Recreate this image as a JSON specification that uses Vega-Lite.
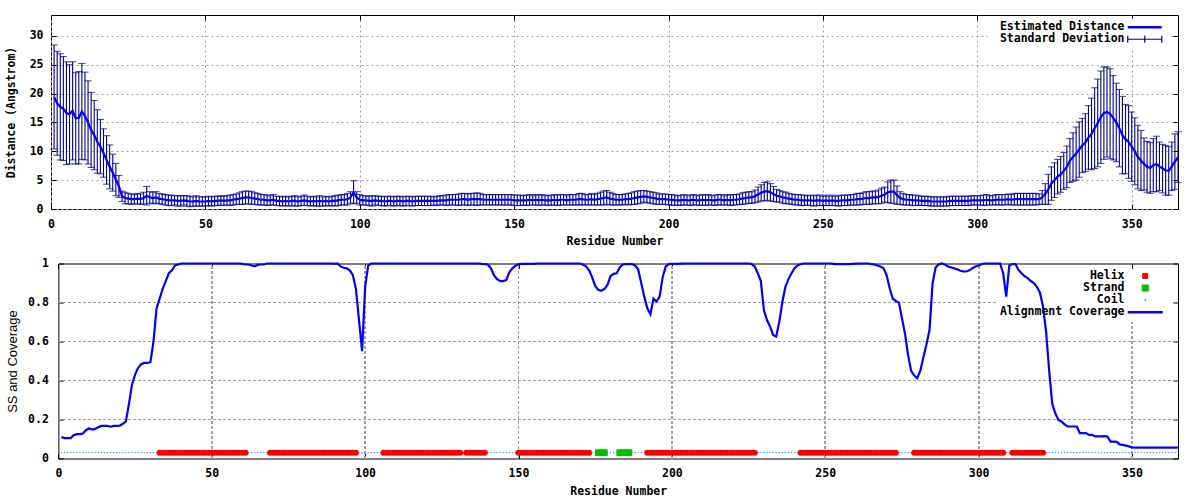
{
"$schema":"https://vega.github.io/schema/vega-lite/v6.json",
"background":"white",
"padding":{"left":5,"top":14,"right":0,"bottom":0},
"data":{"values":[
{"r":1,"d":19.4,"s":9.0,"c":0.11,"t":"C"},{"r":2,"d":18.3,"s":9.0,"c":0.105,"t":"C"},{"r":3,"d":17.7,"s":9.2,"c":0.105,"t":"C"},{"r":4,"d":17.4,"s":9.0,"c":0.105,"t":"C"},{"r":5,"d":16.6,"s":8.9,"c":0.12,"t":"C"},{"r":6,"d":16.4,"s":8.6,"c":0.125,"t":"C"},{"r":7,"d":17.0,"s":8.5,"c":0.125,"t":"C"},{"r":8,"d":15.7,"s":7.9,"c":0.128,"t":"C"},{"r":9,"d":15.8,"s":8.0,"c":0.145,"t":"C"},{"r":10,"d":16.9,"s":8.3,"c":0.155,"t":"C"},
{"r":11,"d":16.1,"s":7.6,"c":0.148,"t":"C"},{"r":12,"d":15.0,"s":7.2,"c":0.152,"t":"C"},{"r":13,"d":13.7,"s":6.5,"c":0.16,"t":"C"},{"r":14,"d":12.8,"s":6.0,"c":0.167,"t":"C"},{"r":15,"d":11.7,"s":5.5,"c":0.167,"t":"C"},{"r":16,"d":10.8,"s":4.7,"c":0.167,"t":"C"},{"r":17,"d":9.7,"s":4.2,"c":0.163,"t":"C"},{"r":18,"d":8.5,"s":4.2,"c":0.167,"t":"C"},{"r":19,"d":7.3,"s":3.8,"c":0.167,"t":"C"},{"r":20,"d":6.3,"s":3.2,"c":0.168,"t":"C"},
{"r":21,"d":5.1,"s":2.8,"c":0.178,"t":"C"},{"r":22,"d":3.9,"s":1.9,"c":0.19,"t":"C"},{"r":23,"d":2.2,"s":0.9,"c":0.28,"t":"C"},{"r":24,"d":1.9,"s":1.0,"c":0.38,"t":"C"},{"r":25,"d":1.8,"s":0.9,"c":0.43,"t":"C"},{"r":26,"d":1.7,"s":0.9,"c":0.465,"t":"C"},{"r":27,"d":1.7,"s":0.8,"c":0.484,"t":"C"},{"r":28,"d":1.8,"s":0.9,"c":0.49,"t":"C"},{"r":29,"d":1.7,"s":0.9,"c":0.49,"t":"C"},{"r":30,"d":1.9,"s":1.0,"c":0.494,"t":"C"},
{"r":31,"d":2.3,"s":1.6,"c":0.6,"t":"C"},{"r":32,"d":2.0,"s":1.0,"c":0.77,"t":"C"},{"r":33,"d":1.9,"s":1.0,"c":0.82,"t":"H"},{"r":34,"d":2.0,"s":1.0,"c":0.87,"t":"H"},{"r":35,"d":1.8,"s":0.9,"c":0.91,"t":"H"},{"r":36,"d":1.7,"s":0.9,"c":0.95,"t":"H"},{"r":37,"d":1.6,"s":0.9,"c":0.965,"t":"H"},{"r":38,"d":1.5,"s":0.9,"c":0.99,"t":"H"},{"r":39,"d":1.5,"s":0.9,"c":0.995,"t":"H"},{"r":40,"d":1.5,"s":0.8,"c":1,"t":"H"},
{"r":41,"d":1.4,"s":0.9,"c":1,"t":"H"},{"r":42,"d":1.4,"s":0.9,"c":1,"t":"H"},{"r":43,"d":1.5,"s":0.8,"c":1,"t":"H"},{"r":44,"d":1.4,"s":0.9,"c":1,"t":"H"},{"r":45,"d":1.3,"s":0.9,"c":1,"t":"H"},{"r":46,"d":1.3,"s":0.8,"c":1,"t":"H"},{"r":47,"d":1.4,"s":0.9,"c":1,"t":"H"},{"r":48,"d":1.3,"s":0.8,"c":1,"t":"H"},{"r":49,"d":1.3,"s":0.8,"c":1,"t":"H"},{"r":50,"d":1.3,"s":0.8,"c":1,"t":"H"},
{"r":51,"d":1.4,"s":0.8,"c":1,"t":"H"},{"r":52,"d":1.3,"s":0.8,"c":1,"t":"H"},{"r":53,"d":1.4,"s":0.8,"c":1,"t":"H"},{"r":54,"d":1.4,"s":0.8,"c":1,"t":"H"},{"r":55,"d":1.5,"s":0.8,"c":1,"t":"H"},{"r":56,"d":1.4,"s":0.8,"c":1,"t":"H"},{"r":57,"d":1.5,"s":0.8,"c":1,"t":"H"},{"r":58,"d":1.5,"s":0.9,"c":1,"t":"H"},{"r":59,"d":1.6,"s":0.9,"c":1,"t":"H"},{"r":60,"d":1.7,"s":0.9,"c":0.998,"t":"H"},
{"r":61,"d":1.8,"s":1.0,"c":0.995,"t":"H"},{"r":62,"d":1.9,"s":1.1,"c":0.995,"t":"C"},{"r":63,"d":2.0,"s":1.1,"c":0.99,"t":"C"},{"r":64,"d":2.0,"s":1.1,"c":0.985,"t":"C"},{"r":65,"d":1.9,"s":1.1,"c":0.993,"t":"C"},{"r":66,"d":1.8,"s":1.0,"c":0.995,"t":"C"},{"r":67,"d":1.7,"s":1.0,"c":0.995,"t":"C"},{"r":68,"d":1.6,"s":0.9,"c":1,"t":"C"},{"r":69,"d":1.6,"s":0.9,"c":1,"t":"H"},{"r":70,"d":1.5,"s":0.9,"c":1,"t":"H"},
{"r":71,"d":1.5,"s":0.8,"c":1,"t":"H"},{"r":72,"d":1.6,"s":0.9,"c":1,"t":"H"},{"r":73,"d":1.4,"s":0.8,"c":1,"t":"H"},{"r":74,"d":1.4,"s":0.8,"c":1,"t":"H"},{"r":75,"d":1.3,"s":0.8,"c":1,"t":"H"},{"r":76,"d":1.4,"s":0.8,"c":1,"t":"H"},{"r":77,"d":1.3,"s":0.8,"c":1,"t":"H"},{"r":78,"d":1.4,"s":0.8,"c":1,"t":"H"},{"r":79,"d":1.4,"s":0.9,"c":1,"t":"H"},{"r":80,"d":1.3,"s":0.8,"c":1,"t":"H"},
{"r":81,"d":1.4,"s":0.8,"c":1,"t":"H"},{"r":82,"d":1.5,"s":0.9,"c":1,"t":"H"},{"r":83,"d":1.4,"s":0.8,"c":1,"t":"H"},{"r":84,"d":1.3,"s":0.8,"c":1,"t":"H"},{"r":85,"d":1.4,"s":0.8,"c":1,"t":"H"},{"r":86,"d":1.3,"s":0.8,"c":1,"t":"H"},{"r":87,"d":1.4,"s":0.9,"c":1,"t":"H"},{"r":88,"d":1.3,"s":0.8,"c":1,"t":"H"},{"r":89,"d":1.4,"s":0.8,"c":1,"t":"H"},{"r":90,"d":1.3,"s":0.8,"c":0.998,"t":"H"},
{"r":91,"d":1.4,"s":0.8,"c":1,"t":"H"},{"r":92,"d":1.4,"s":0.9,"c":0.985,"t":"H"},{"r":93,"d":1.5,"s":0.9,"c":0.978,"t":"H"},{"r":94,"d":1.6,"s":0.9,"c":0.975,"t":"H"},{"r":95,"d":1.6,"s":0.9,"c":0.965,"t":"H"},{"r":96,"d":1.7,"s":1.0,"c":0.94,"t":"H"},{"r":97,"d":2.0,"s":1.0,"c":0.87,"t":"H"},{"r":98,"d":2.9,"s":2.0,"c":0.71,"t":"C"},{"r":99,"d":2.0,"s":1.0,"c":0.55,"t":"C"},{"r":100,"d":1.6,"s":0.9,"c":0.88,"t":"C"},
{"r":101,"d":1.5,"s":0.8,"c":0.99,"t":"C"},{"r":102,"d":1.5,"s":0.8,"c":1,"t":"C"},{"r":103,"d":1.4,"s":0.8,"c":1,"t":"C"},{"r":104,"d":1.4,"s":0.9,"c":1,"t":"C"},{"r":105,"d":1.5,"s":0.8,"c":1,"t":"C"},{"r":106,"d":1.4,"s":0.8,"c":1,"t":"H"},{"r":107,"d":1.4,"s":0.8,"c":1,"t":"H"},{"r":108,"d":1.3,"s":0.8,"c":1,"t":"H"},{"r":109,"d":1.4,"s":0.8,"c":1,"t":"H"},{"r":110,"d":1.4,"s":0.8,"c":1,"t":"H"},
{"r":111,"d":1.3,"s":0.8,"c":1,"t":"H"},{"r":112,"d":1.4,"s":0.8,"c":1,"t":"H"},{"r":113,"d":1.4,"s":0.8,"c":1,"t":"H"},{"r":114,"d":1.3,"s":0.8,"c":1,"t":"H"},{"r":115,"d":1.4,"s":0.8,"c":1,"t":"H"},{"r":116,"d":1.4,"s":0.8,"c":1,"t":"H"},{"r":117,"d":1.3,"s":0.8,"c":1,"t":"H"},{"r":118,"d":1.4,"s":0.8,"c":1,"t":"H"},{"r":119,"d":1.4,"s":0.8,"c":1,"t":"H"},{"r":120,"d":1.4,"s":0.8,"c":1,"t":"H"},
{"r":121,"d":1.4,"s":0.8,"c":1,"t":"H"},{"r":122,"d":1.4,"s":0.8,"c":1,"t":"H"},{"r":123,"d":1.4,"s":0.8,"c":1,"t":"H"},{"r":124,"d":1.4,"s":0.7,"c":1,"t":"H"},{"r":125,"d":1.4,"s":0.8,"c":1,"t":"H"},{"r":126,"d":1.5,"s":0.8,"c":1,"t":"H"},{"r":127,"d":1.5,"s":0.8,"c":1,"t":"H"},{"r":128,"d":1.5,"s":0.9,"c":1,"t":"H"},{"r":129,"d":1.6,"s":0.9,"c":1,"t":"H"},{"r":130,"d":1.6,"s":0.9,"c":1,"t":"H"},
{"r":131,"d":1.6,"s":0.9,"c":1,"t":"H"},{"r":132,"d":1.6,"s":1.0,"c":1,"t":"C"},{"r":133,"d":1.7,"s":1.0,"c":1,"t":"H"},{"r":134,"d":1.7,"s":1.0,"c":1,"t":"H"},{"r":135,"d":1.6,"s":1.0,"c":1,"t":"H"},{"r":136,"d":1.7,"s":1.0,"c":1,"t":"H"},{"r":137,"d":1.7,"s":1.0,"c":1,"t":"H"},{"r":138,"d":1.7,"s":1.1,"c":0.998,"t":"H"},{"r":139,"d":1.7,"s":1.0,"c":0.997,"t":"H"},{"r":140,"d":1.6,"s":0.9,"c":0.995,"t":"C"},
{"r":141,"d":1.6,"s":0.9,"c":0.975,"t":"C"},{"r":142,"d":1.6,"s":0.9,"c":0.94,"t":"C"},{"r":143,"d":1.6,"s":0.9,"c":0.92,"t":"C"},{"r":144,"d":1.6,"s":0.9,"c":0.91,"t":"C"},{"r":145,"d":1.6,"s":0.9,"c":0.91,"t":"C"},{"r":146,"d":1.6,"s":0.9,"c":0.915,"t":"C"},{"r":147,"d":1.6,"s":0.9,"c":0.955,"t":"C"},{"r":148,"d":1.6,"s":0.9,"c":0.975,"t":"C"},{"r":149,"d":1.6,"s":0.9,"c":0.988,"t":"C"},{"r":150,"d":1.5,"s":0.9,"c":0.996,"t":"H"},
{"r":151,"d":1.5,"s":0.9,"c":0.998,"t":"H"},{"r":152,"d":1.5,"s":0.9,"c":0.998,"t":"H"},{"r":153,"d":1.5,"s":0.8,"c":0.998,"t":"H"},{"r":154,"d":1.5,"s":0.9,"c":0.998,"t":"H"},{"r":155,"d":1.6,"s":0.9,"c":0.998,"t":"H"},{"r":156,"d":1.5,"s":0.8,"c":1,"t":"H"},{"r":157,"d":1.6,"s":0.9,"c":1,"t":"H"},{"r":158,"d":1.5,"s":0.9,"c":1,"t":"H"},{"r":159,"d":1.6,"s":0.9,"c":1,"t":"H"},{"r":160,"d":1.5,"s":0.8,"c":1,"t":"H"},
{"r":161,"d":1.5,"s":0.9,"c":1,"t":"H"},{"r":162,"d":1.5,"s":0.8,"c":1,"t":"H"},{"r":163,"d":1.6,"s":0.9,"c":1,"t":"H"},{"r":164,"d":1.5,"s":0.9,"c":1,"t":"H"},{"r":165,"d":1.6,"s":0.9,"c":1,"t":"H"},{"r":166,"d":1.6,"s":0.9,"c":1,"t":"H"},{"r":167,"d":1.5,"s":0.8,"c":1,"t":"H"},{"r":168,"d":1.6,"s":0.9,"c":1,"t":"H"},{"r":169,"d":1.6,"s":0.9,"c":1,"t":"H"},{"r":170,"d":1.6,"s":0.9,"c":1,"t":"H"},
{"r":171,"d":1.7,"s":1.0,"c":0.995,"t":"H"},{"r":172,"d":1.7,"s":1.0,"c":0.985,"t":"H"},{"r":173,"d":1.6,"s":0.9,"c":0.965,"t":"H"},{"r":174,"d":1.6,"s":0.9,"c":0.93,"t":"C"},{"r":175,"d":1.7,"s":1.0,"c":0.885,"t":"C"},{"r":176,"d":1.6,"s":0.9,"c":0.865,"t":"E"},{"r":177,"d":1.7,"s":1.0,"c":0.86,"t":"E"},{"r":178,"d":1.8,"s":1.1,"c":0.87,"t":"E"},{"r":179,"d":1.9,"s":1.2,"c":0.89,"t":"C"},{"r":180,"d":2.0,"s":1.2,"c":0.935,"t":"C"},
{"r":181,"d":1.8,"s":1.1,"c":0.947,"t":"C"},{"r":182,"d":1.7,"s":1.0,"c":0.95,"t":"C"},{"r":183,"d":1.6,"s":0.9,"c":0.98,"t":"E"},{"r":184,"d":1.6,"s":0.9,"c":0.995,"t":"E"},{"r":185,"d":1.6,"s":0.9,"c":0.997,"t":"E"},{"r":186,"d":1.7,"s":0.9,"c":0.997,"t":"E"},{"r":187,"d":1.7,"s":1.0,"c":0.997,"t":"C"},{"r":188,"d":1.8,"s":1.0,"c":0.99,"t":"C"},{"r":189,"d":1.9,"s":1.1,"c":0.97,"t":"C"},{"r":190,"d":2.0,"s":1.1,"c":0.9,"t":"C"},
{"r":191,"d":2.1,"s":1.1,"c":0.83,"t":"C"},{"r":192,"d":2.2,"s":1.0,"c":0.77,"t":"H"},{"r":193,"d":2.1,"s":1.0,"c":0.74,"t":"H"},{"r":194,"d":2.0,"s":1.0,"c":0.82,"t":"H"},{"r":195,"d":1.9,"s":1.0,"c":0.805,"t":"H"},{"r":196,"d":1.8,"s":1.0,"c":0.83,"t":"H"},{"r":197,"d":1.7,"s":0.9,"c":0.93,"t":"H"},{"r":198,"d":1.7,"s":0.9,"c":0.985,"t":"H"},{"r":199,"d":1.7,"s":0.9,"c":0.997,"t":"H"},{"r":200,"d":1.6,"s":0.9,"c":0.998,"t":"H"},
{"r":201,"d":1.6,"s":0.9,"c":0.998,"t":"H"},{"r":202,"d":1.5,"s":0.9,"c":0.998,"t":"H"},{"r":203,"d":1.5,"s":0.8,"c":0.999,"t":"H"},{"r":204,"d":1.5,"s":0.9,"c":1,"t":"H"},{"r":205,"d":1.6,"s":0.9,"c":1,"t":"H"},{"r":206,"d":1.5,"s":0.8,"c":1,"t":"H"},{"r":207,"d":1.5,"s":0.9,"c":1,"t":"H"},{"r":208,"d":1.6,"s":0.9,"c":1,"t":"H"},{"r":209,"d":1.5,"s":0.8,"c":1,"t":"H"},{"r":210,"d":1.5,"s":0.9,"c":1,"t":"H"},
{"r":211,"d":1.6,"s":0.9,"c":1,"t":"H"},{"r":212,"d":1.5,"s":0.9,"c":1,"t":"H"},{"r":213,"d":1.6,"s":0.9,"c":1,"t":"H"},{"r":214,"d":1.5,"s":0.8,"c":1,"t":"H"},{"r":215,"d":1.5,"s":0.9,"c":1,"t":"H"},{"r":216,"d":1.6,"s":0.9,"c":1,"t":"H"},{"r":217,"d":1.6,"s":0.9,"c":1,"t":"H"},{"r":218,"d":1.5,"s":0.8,"c":1,"t":"H"},{"r":219,"d":1.6,"s":0.9,"c":1,"t":"H"},{"r":220,"d":1.5,"s":0.9,"c":1,"t":"H"},
{"r":221,"d":1.6,"s":0.9,"c":1,"t":"H"},{"r":222,"d":1.6,"s":0.9,"c":1,"t":"H"},{"r":223,"d":1.7,"s":0.9,"c":1,"t":"H"},{"r":224,"d":1.8,"s":1.0,"c":1,"t":"H"},{"r":225,"d":1.9,"s":1.0,"c":1,"t":"H"},{"r":226,"d":2.0,"s":1.0,"c":0.997,"t":"H"},{"r":227,"d":2.0,"s":1.0,"c":0.985,"t":"H"},{"r":228,"d":2.2,"s":1.1,"c":0.95,"t":"C"},{"r":229,"d":2.5,"s":1.3,"c":0.91,"t":"C"},{"r":230,"d":2.8,"s":1.4,"c":0.76,"t":"C"},
{"r":231,"d":3.0,"s":1.6,"c":0.71,"t":"C"},{"r":232,"d":3.1,"s":1.6,"c":0.677,"t":"C"},{"r":233,"d":2.9,"s":1.5,"c":0.634,"t":"C"},{"r":234,"d":2.6,"s":1.3,"c":0.625,"t":"C"},{"r":235,"d":2.3,"s":1.1,"c":0.7,"t":"C"},{"r":236,"d":2.2,"s":1.0,"c":0.8,"t":"C"},{"r":237,"d":2.0,"s":1.0,"c":0.88,"t":"C"},{"r":238,"d":1.9,"s":1.0,"c":0.92,"t":"C"},{"r":239,"d":1.8,"s":0.9,"c":0.95,"t":"C"},{"r":240,"d":1.7,"s":0.9,"c":0.976,"t":"C"},
{"r":241,"d":1.6,"s":0.9,"c":0.99,"t":"C"},{"r":242,"d":1.6,"s":0.9,"c":0.997,"t":"H"},{"r":243,"d":1.5,"s":0.9,"c":1,"t":"H"},{"r":244,"d":1.5,"s":0.9,"c":1,"t":"H"},{"r":245,"d":1.5,"s":0.8,"c":1,"t":"H"},{"r":246,"d":1.5,"s":0.9,"c":1,"t":"H"},{"r":247,"d":1.4,"s":0.9,"c":1,"t":"H"},{"r":248,"d":1.5,"s":0.9,"c":1,"t":"H"},{"r":249,"d":1.5,"s":0.9,"c":1,"t":"H"},{"r":250,"d":1.4,"s":0.8,"c":1,"t":"H"},
{"r":251,"d":1.5,"s":0.9,"c":1,"t":"H"},{"r":252,"d":1.4,"s":0.8,"c":1,"t":"H"},{"r":253,"d":1.5,"s":0.9,"c":0.997,"t":"H"},{"r":254,"d":1.4,"s":0.8,"c":0.997,"t":"H"},{"r":255,"d":1.4,"s":0.9,"c":0.997,"t":"H"},{"r":256,"d":1.5,"s":0.9,"c":0.997,"t":"H"},{"r":257,"d":1.5,"s":0.9,"c":0.997,"t":"H"},{"r":258,"d":1.5,"s":0.9,"c":0.997,"t":"H"},{"r":259,"d":1.6,"s":0.9,"c":0.998,"t":"H"},{"r":260,"d":1.6,"s":0.9,"c":0.999,"t":"H"},
{"r":261,"d":1.7,"s":1.0,"c":1,"t":"H"},{"r":262,"d":1.7,"s":1.0,"c":1,"t":"H"},{"r":263,"d":1.8,"s":1.0,"c":1,"t":"H"},{"r":264,"d":1.9,"s":1.1,"c":1,"t":"H"},{"r":265,"d":1.9,"s":1.1,"c":0.997,"t":"H"},{"r":266,"d":2.0,"s":1.1,"c":0.995,"t":"H"},{"r":267,"d":2.0,"s":1.1,"c":0.99,"t":"H"},{"r":268,"d":2.1,"s":1.2,"c":0.985,"t":"H"},{"r":269,"d":2.3,"s":1.3,"c":0.976,"t":"H"},{"r":270,"d":2.5,"s":1.3,"c":0.94,"t":"H"},
{"r":271,"d":2.9,"s":1.8,"c":0.873,"t":"H"},{"r":272,"d":3.0,"s":2.0,"c":0.82,"t":"H"},{"r":273,"d":3.0,"s":2.0,"c":0.808,"t":"H"},{"r":274,"d":2.4,"s":1.6,"c":0.8,"t":"C"},{"r":275,"d":1.9,"s":1.1,"c":0.72,"t":"C"},{"r":276,"d":1.7,"s":1.0,"c":0.64,"t":"C"},{"r":277,"d":1.6,"s":0.9,"c":0.53,"t":"C"},{"r":278,"d":1.6,"s":0.9,"c":0.45,"t":"C"},{"r":279,"d":1.5,"s":0.9,"c":0.425,"t":"H"},{"r":280,"d":1.5,"s":0.9,"c":0.412,"t":"H"},
{"r":281,"d":1.5,"s":0.8,"c":0.45,"t":"H"},{"r":282,"d":1.4,"s":0.8,"c":0.52,"t":"H"},{"r":283,"d":1.4,"s":0.8,"c":0.585,"t":"H"},{"r":284,"d":1.4,"s":0.8,"c":0.66,"t":"H"},{"r":285,"d":1.3,"s":0.8,"c":0.9,"t":"H"},{"r":286,"d":1.3,"s":0.8,"c":0.98,"t":"H"},{"r":287,"d":1.3,"s":0.8,"c":0.995,"t":"H"},{"r":288,"d":1.3,"s":0.8,"c":1,"t":"H"},{"r":289,"d":1.3,"s":0.8,"c":0.995,"t":"H"},{"r":290,"d":1.3,"s":0.8,"c":0.985,"t":"H"},
{"r":291,"d":1.4,"s":0.8,"c":0.98,"t":"H"},{"r":292,"d":1.4,"s":0.8,"c":0.976,"t":"H"},{"r":293,"d":1.4,"s":0.8,"c":0.97,"t":"H"},{"r":294,"d":1.4,"s":0.8,"c":0.963,"t":"H"},{"r":295,"d":1.4,"s":0.8,"c":0.96,"t":"H"},{"r":296,"d":1.4,"s":0.8,"c":0.959,"t":"H"},{"r":297,"d":1.4,"s":0.8,"c":0.965,"t":"H"},{"r":298,"d":1.5,"s":0.8,"c":0.976,"t":"H"},{"r":299,"d":1.5,"s":0.8,"c":0.985,"t":"H"},{"r":300,"d":1.5,"s":0.8,"c":0.99,"t":"H"},
{"r":301,"d":1.5,"s":0.8,"c":0.997,"t":"H"},{"r":302,"d":1.5,"s":0.9,"c":1,"t":"H"},{"r":303,"d":1.6,"s":0.9,"c":1,"t":"H"},{"r":304,"d":1.5,"s":0.8,"c":1,"t":"H"},{"r":305,"d":1.5,"s":0.8,"c":1,"t":"H"},{"r":306,"d":1.6,"s":0.9,"c":1,"t":"H"},{"r":307,"d":1.6,"s":0.9,"c":1,"t":"H"},{"r":308,"d":1.6,"s":0.9,"c":0.95,"t":"H"},{"r":309,"d":1.6,"s":0.9,"c":0.83,"t":"C"},{"r":310,"d":1.7,"s":0.9,"c":0.99,"t":"C"},
{"r":311,"d":1.6,"s":0.9,"c":0.997,"t":"H"},{"r":312,"d":1.7,"s":1.0,"c":0.997,"t":"H"},{"r":313,"d":1.7,"s":1.0,"c":0.967,"t":"H"},{"r":314,"d":1.7,"s":1.0,"c":0.95,"t":"H"},{"r":315,"d":1.7,"s":1.0,"c":0.935,"t":"H"},{"r":316,"d":1.7,"s":1.0,"c":0.925,"t":"H"},{"r":317,"d":1.7,"s":1.0,"c":0.91,"t":"H"},{"r":318,"d":1.7,"s":1.0,"c":0.9,"t":"H"},{"r":319,"d":1.7,"s":1.0,"c":0.88,"t":"H"},{"r":320,"d":1.7,"s":0.9,"c":0.85,"t":"H"},
{"r":321,"d":2.0,"s":1.2,"c":0.78,"t":"H"},{"r":322,"d":2.6,"s":1.8,"c":0.65,"t":"C"},{"r":323,"d":3.4,"s":2.6,"c":0.45,"t":"C"},{"r":324,"d":4.4,"s":2.9,"c":0.28,"t":"C"},{"r":325,"d":5.0,"s":3.0,"c":0.232,"t":"C"},{"r":326,"d":5.6,"s":3.0,"c":0.198,"t":"C"},{"r":327,"d":6.0,"s":3.1,"c":0.19,"t":"C"},{"r":328,"d":6.6,"s":3.2,"c":0.175,"t":"C"},{"r":329,"d":7.3,"s":3.6,"c":0.164,"t":"C"},{"r":330,"d":8.4,"s":3.8,"c":0.164,"t":"C"},
{"r":331,"d":9.0,"s":4.2,"c":0.164,"t":"C"},{"r":332,"d":9.6,"s":4.6,"c":0.164,"t":"C"},{"r":333,"d":10.3,"s":4.8,"c":0.13,"t":"C"},{"r":334,"d":11.0,"s":4.7,"c":0.13,"t":"C"},{"r":335,"d":11.5,"s":5.0,"c":0.13,"t":"C"},{"r":336,"d":12.4,"s":5.5,"c":0.121,"t":"C"},{"r":337,"d":13.0,"s":6.2,"c":0.121,"t":"C"},{"r":338,"d":14.0,"s":7.0,"c":0.113,"t":"C"},{"r":339,"d":14.9,"s":7.6,"c":0.113,"t":"C"},{"r":340,"d":15.9,"s":8.0,"c":0.113,"t":"C"},
{"r":341,"d":16.6,"s":8.0,"c":0.115,"t":"C"},{"r":342,"d":16.8,"s":7.8,"c":0.113,"t":"C"},{"r":343,"d":16.5,"s":7.8,"c":0.087,"t":"C"},{"r":344,"d":15.8,"s":7.3,"c":0.087,"t":"C"},{"r":345,"d":15.0,"s":6.8,"c":0.085,"t":"C"},{"r":346,"d":14.0,"s":6.7,"c":0.072,"t":"C"},{"r":347,"d":12.8,"s":6.7,"c":0.07,"t":"C"},{"r":348,"d":12.1,"s":6.0,"c":0.066,"t":"C"},{"r":349,"d":11.6,"s":6.3,"c":0.062,"t":"C"},{"r":350,"d":10.8,"s":6.0,"c":0.057,"t":"C"},
{"r":351,"d":10.0,"s":5.8,"c":0.056,"t":"C"},{"r":352,"d":9.0,"s":5.5,"c":0.056,"t":"C"},{"r":353,"d":8.4,"s":5.2,"c":0.056,"t":"C"},{"r":354,"d":7.8,"s":4.5,"c":0.056,"t":"C"},{"r":355,"d":7.3,"s":4.4,"c":0.056,"t":"C"},{"r":356,"d":7.1,"s":4.4,"c":0.056,"t":"C"},{"r":357,"d":7.6,"s":4.6,"c":0.056,"t":"C"},{"r":358,"d":7.8,"s":4.8,"c":0.056,"t":"C"},{"r":359,"d":7.4,"s":4.2,"c":0.056,"t":"C"},{"r":360,"d":7.0,"s":4.2,"c":0.056,"t":"C"},
{"r":361,"d":6.7,"s":4.3,"c":0.056,"t":"C"},{"r":362,"d":6.6,"s":4.2,"c":0.056,"t":"C"},{"r":363,"d":7.4,"s":4.2,"c":0.056,"t":"C"},{"r":364,"d":8.2,"s":4.8,"c":0.056,"t":"C"},{"r":365,"d":9.0,"s":4.4,"c":0.056,"t":"C"}
]},
"config":{
"font":"DejaVu Sans Mono",
"view":{"stroke":"black","strokeWidth":1},
"axis":{"labelFont":"DejaVu Sans Mono","labelFontWeight":"bold","labelFontSize":11.5,"labelColor":"black","titleFont":"DejaVu Sans Mono","titleFontWeight":"bold","titleFontSize":11.5,"titleColor":"black","grid":false,"gridColor":"#a0a0a0","gridDash":[2,3],"gridWidth":1,"domain":false,"domainColor":"black","domainWidth":1,"ticks":true,"tickColor":"black","tickSize":-5,"labelFlush":false,"labelOverlap":false},
"axisX":{"labelPadding":14,"titlePadding":6},
"axisY":{"labelPadding":13,"titlePadding":12.3},
"legend":{"orient":"none","title":null,"labelFont":"DejaVu Sans Mono","labelFontWeight":"bold","labelFontSize":11.5,"labelColor":"black","labelAlign":"right","labelOffset":122,"labelLimit":400,"symbolSize":4,"padding":3}
},
"concat":[
{
"width":1127,"height":194,
"layer":[
 {"mark":{"type":"errorbar","ticks":{"size":7},"thickness":1.1},
  "encoding":{
   "x":{"field":"r","type":"quantitative","scale":{"domain":[0,365],"nice":false,"zero":false},"axis":{"values":[0,50,100,150,200,250,300,350],"title":"Residue Number","grid":true,"labelOverlap":false}},
   "y":{"field":"d","type":"quantitative","scale":{"domain":[0,33.6],"nice":false},"axis":{"values":[0,5,10,15,20,25,30],"title":"Distance (Angstrom)","grid":true,"labelOverlap":false}},
   "yError":{"field":"s"},
   "color":{"datum":"Standard Deviation","type":"nominal","scale":{"domain":["Estimated Distance","Standard Deviation"],"range":["#0000ff","#00008b"]},
    "legend":{"legendX":937,"legendY":3.5,"rowPadding":-1.5,"fillColor":"white",
     "encode":{"symbols":{"update":{
      "shape":{"signal":"datum.value === 'Estimated Distance' ? 'M131,0H165' : 'M131,0H165M131,-3.5V3.5M165,-3.5V3.5M148,-3.5V3.5'"},
      "stroke":{"signal":"datum.value === 'Estimated Distance' ? '#0000ff' : '#00008b'"},
      "strokeWidth":{"signal":"datum.value === 'Estimated Distance' ? 2.5 : 1.2"},
      "fill":{"value":"transparent"},"opacity":{"value":1}}}}}}}},
 {"mark":{"type":"line","strokeWidth":2.2},
  "encoding":{
   "x":{"field":"r","type":"quantitative","axis":{"orient":"top","values":[0,50,100,150,200,250,300,350],"labels":false,"title":null}},
   "y":{"field":"d","type":"quantitative","axis":{"orient":"right","values":[0,5,10,15,20,25,30],"labels":false,"title":null}},
   "color":{"datum":"Estimated Distance","type":"nominal"}}}
],
"resolve":{"axis":{"x":"independent","y":"independent"}}
},
{
"width":1127,"height":195,
"view":{"stroke":null},
"layer":[
 {"mark":{"type":"rule","color":"#a0a0a0","strokeDash":[2,3],"strokeWidth":1},
  "encoding":{
   "x":{"datum":0,"type":"quantitative","scale":{"domain":[0,365],"range":[7.4,1127],"nice":false,"zero":false},"axis":{"values":[0,50,100,150,200,250,300,350],"title":"Residue Number","domain":true,"labelOverlap":false}},
   "x2":{"datum":365},
   "y":{"datum":0.2,"type":"quantitative","scale":{"domain":[0,1],"nice":false},"axis":{"values":[0,0.2,0.4,0.6,0.8,1],"format":"~g","title":"SS and Coverage","titleFont":"Liberation Sans","titleFontWeight":"normal","titleFontSize":13,"labelPadding":15,"titlePadding":7.7,"offset":-7.4,"domain":true,"labelOverlap":false}}}},
 {"mark":{"type":"rule","color":"#a0a0a0","strokeDash":[2,3],"strokeWidth":1},
  "encoding":{"x":{"datum":0,"type":"quantitative","axis":null},"x2":{"datum":365},"y":{"datum":0.4,"type":"quantitative","axis":null}}},
 {"mark":{"type":"rule","color":"#a0a0a0","strokeDash":[2,3],"strokeWidth":1},
  "encoding":{"x":{"datum":0,"type":"quantitative","axis":null},"x2":{"datum":365},"y":{"datum":0.6,"type":"quantitative","axis":null}}},
 {"mark":{"type":"rule","color":"#a0a0a0","strokeDash":[2,3],"strokeWidth":1},
  "encoding":{"x":{"datum":0,"type":"quantitative","axis":null},"x2":{"datum":306},"y":{"datum":0.8,"type":"quantitative","axis":null}}},
 {"mark":{"type":"rule","color":"#a0a0a0","strokeDash":[2,3],"strokeWidth":1},
  "encoding":{"x":{"datum":50,"type":"quantitative","axis":null},"y":{"datum":0,"type":"quantitative","axis":null},"y2":{"datum":1}}},
 {"mark":{"type":"rule","color":"#a0a0a0","strokeDash":[2,3],"strokeWidth":1},
  "encoding":{"x":{"datum":100,"type":"quantitative","axis":null},"y":{"datum":0,"type":"quantitative","axis":null},"y2":{"datum":1}}},
 {"mark":{"type":"rule","color":"#a0a0a0","strokeDash":[2,3],"strokeWidth":1},
  "encoding":{"x":{"datum":150,"type":"quantitative","axis":null},"y":{"datum":0,"type":"quantitative","axis":null},"y2":{"datum":1}}},
 {"mark":{"type":"rule","color":"#a0a0a0","strokeDash":[2,3],"strokeWidth":1},
  "encoding":{"x":{"datum":200,"type":"quantitative","axis":null},"y":{"datum":0,"type":"quantitative","axis":null},"y2":{"datum":1}}},
 {"mark":{"type":"rule","color":"#a0a0a0","strokeDash":[2,3],"strokeWidth":1},
  "encoding":{"x":{"datum":250,"type":"quantitative","axis":null},"y":{"datum":0,"type":"quantitative","axis":null},"y2":{"datum":1}}},
 {"mark":{"type":"rule","color":"#a0a0a0","strokeDash":[2,3],"strokeWidth":1},
  "encoding":{"x":{"datum":300,"type":"quantitative","axis":null},"y":{"datum":0,"type":"quantitative","axis":null},"y2":{"datum":1}}},
 {"mark":{"type":"rule","color":"#a0a0a0","strokeDash":[2,3],"strokeWidth":1},
  "encoding":{"x":{"datum":350,"type":"quantitative","axis":null},"y":{"datum":0,"type":"quantitative","axis":null},"y2":{"datum":0.7}}},
 {"transform":[{"filter":"datum.t=='C'"}],
  "mark":{"type":"point","filled":true,"size":2,"opacity":1},
  "encoding":{"x":{"field":"r","type":"quantitative","axis":null},"y":{"datum":0.03,"type":"quantitative","axis":null},
   "color":{"field":"t","type":"nominal","scale":{"domain":["H","E","C","A"],"range":["#ff0000","#00c000","#1e90ff","#0000ff"]},
    "legend":{"legendX":937,"legendY":3.7,"rowPadding":-0.9,
     "labelExpr":"datum.value=='H'?'Helix':datum.value=='E'?'Strand':datum.value=='C'?'Coil':'Alignment Coverage'",
     "encode":{"symbols":{"update":{
      "shape":{"signal":"datum.value=='A' ? 'M131,0H166' : datum.value=='E' ? 'M145,-3.5H152V3.5H145Z' : datum.value=='C' ? 'M147.8,-0.8H149.2V0.8H147.8Z' : 'M146.2,-3H150.6L151.4,-2.2V2.2L150.6,3H146.2L145.4,2.2V-2.2Z'"},
      "fill":{"signal":"datum.value=='A' ? 'transparent' : datum.value=='H' ? '#ff0000' : datum.value=='E' ? '#00c000' : '#1e90ff'"},
      "stroke":{"signal":"datum.value=='A' ? '#0000ff' : 'transparent'"},
      "strokeWidth":{"signal":"datum.value=='A' ? 2.5 : 0"},"opacity":{"value":1},"fillOpacity":{"value":1}}}}}}}},
 {"transform":[{"filter":"datum.t=='H'"}],
  "mark":{"type":"point","filled":true,"size":36,"opacity":1},
  "encoding":{"x":{"field":"r","type":"quantitative","axis":null},"y":{"datum":0.03,"type":"quantitative","axis":null},
   "color":{"field":"t","type":"nominal",
    "legend":{"legendX":937,"legendY":3.7,"rowPadding":-0.9,
     "labelExpr":"datum.value=='H'?'Helix':datum.value=='E'?'Strand':datum.value=='C'?'Coil':'Alignment Coverage'",
     "encode":{"symbols":{"update":{
      "shape":{"signal":"datum.value=='A' ? 'M131,0H166' : datum.value=='E' ? 'M145,-3.5H152V3.5H145Z' : datum.value=='C' ? 'M147.8,-0.8H149.2V0.8H147.8Z' : 'M146.2,-3H150.6L151.4,-2.2V2.2L150.6,3H146.2L145.4,2.2V-2.2Z'"},
      "fill":{"signal":"datum.value=='A' ? 'transparent' : datum.value=='H' ? '#ff0000' : datum.value=='E' ? '#00c000' : '#1e90ff'"},
      "stroke":{"signal":"datum.value=='A' ? '#0000ff' : 'transparent'"},
      "strokeWidth":{"signal":"datum.value=='A' ? 2.5 : 0"},"opacity":{"value":1},"fillOpacity":{"value":1}}}}}}}},
 {"transform":[{"filter":"datum.t=='E'"}],
  "mark":{"type":"point","filled":true,"shape":"square","size":44,"opacity":1},
  "encoding":{"x":{"field":"r","type":"quantitative","axis":null},"y":{"datum":0.03,"type":"quantitative","axis":null},
   "color":{"field":"t","type":"nominal",
    "legend":{"legendX":937,"legendY":3.7,"rowPadding":-0.9,
     "labelExpr":"datum.value=='H'?'Helix':datum.value=='E'?'Strand':datum.value=='C'?'Coil':'Alignment Coverage'",
     "encode":{"symbols":{"update":{
      "shape":{"signal":"datum.value=='A' ? 'M131,0H166' : datum.value=='E' ? 'M145,-3.5H152V3.5H145Z' : datum.value=='C' ? 'M147.8,-0.8H149.2V0.8H147.8Z' : 'M146.2,-3H150.6L151.4,-2.2V2.2L150.6,3H146.2L145.4,2.2V-2.2Z'"},
      "fill":{"signal":"datum.value=='A' ? 'transparent' : datum.value=='H' ? '#ff0000' : datum.value=='E' ? '#00c000' : '#1e90ff'"},
      "stroke":{"signal":"datum.value=='A' ? '#0000ff' : 'transparent'"},
      "strokeWidth":{"signal":"datum.value=='A' ? 2.5 : 0"},"opacity":{"value":1},"fillOpacity":{"value":1}}}}}}}},
 {"mark":{"type":"line","strokeWidth":2.2},
  "encoding":{
   "x":{"field":"r","type":"quantitative","axis":{"orient":"top","values":[0,50,100,150,200,250,300,350],"labels":false,"title":null,"domain":true}},
   "y":{"field":"c","type":"quantitative","axis":{"orient":"right","values":[0,0.2,0.4,0.6,0.8,1],"labels":false,"title":null,"domain":true}},
   "color":{"datum":"A","type":"nominal",
    "legend":{"legendX":937,"legendY":3.7,"rowPadding":-0.9,
     "labelExpr":"datum.value=='H'?'Helix':datum.value=='E'?'Strand':datum.value=='C'?'Coil':'Alignment Coverage'",
     "encode":{"symbols":{"update":{
      "shape":{"signal":"datum.value=='A' ? 'M131,0H166' : datum.value=='E' ? 'M145,-3.5H152V3.5H145Z' : datum.value=='C' ? 'M147.8,-0.8H149.2V0.8H147.8Z' : 'M146.2,-3H150.6L151.4,-2.2V2.2L150.6,3H146.2L145.4,2.2V-2.2Z'"},
      "fill":{"signal":"datum.value=='A' ? 'transparent' : datum.value=='H' ? '#ff0000' : datum.value=='E' ? '#00c000' : '#1e90ff'"},
      "stroke":{"signal":"datum.value=='A' ? '#0000ff' : 'transparent'"},
      "strokeWidth":{"signal":"datum.value=='A' ? 2.5 : 0"},"opacity":{"value":1},"fillOpacity":{"value":1}}}}}}}}
],
"resolve":{"axis":{"x":"independent","y":"independent"}}
}
],
"columns":1,
"spacing":9.5,
"resolve":{"scale":{"x":"independent","y":"independent","color":"independent"},"legend":{"color":"independent"}}
}
